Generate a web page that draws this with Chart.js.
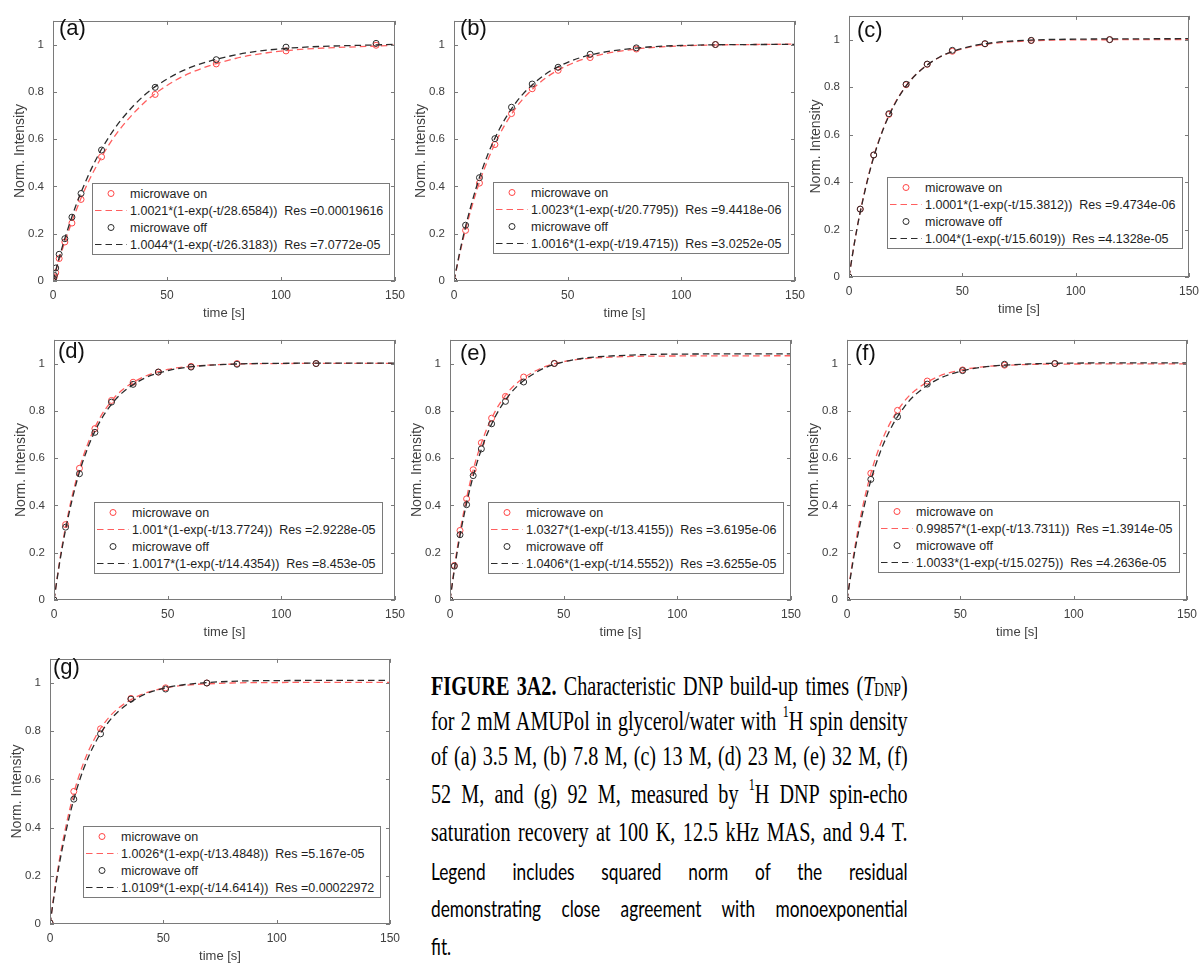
<!DOCTYPE html>
<html>
<head>
<meta charset="utf-8">
<script src="https://cdn.jsdelivr.net/npm/chart.js@4.4.1/dist/chart.umd.min.js"></script>
<style>
  body { margin: 0; background: #fff; width: 1204px; height: 963px; overflow: hidden; position: relative;
         font-family: "Liberation Sans", Arial, sans-serif; }
  canvas.panel { position: absolute; }
  .legend { position: absolute; background: #fff; border: 1px solid #7a7a7a; padding: 1px 6px 1px 2px;
            font-size: 12.5px; color: #1e1e1e; }
  .legend .row { display: flex; align-items: center; height: 17px; white-space: pre; }
  .legend svg { width: 32px; height: 17px; margin-right: 3px; flex: none; }
  .tag { position: absolute; font-size: 22px; line-height: 22px; color: #111; }
  .cap { position: absolute; left: 431px; width: 662px; transform-origin: 0 0; transform: scaleX(0.72);
         text-align: justify; text-align-last: justify; color: #000; }
  .serif { font-family: "Liberation Serif", "Times New Roman", serif; font-size: 28px; line-height: 28px; }
  .sans { font-family: Lato, "Open Sans", sans-serif; font-size: 24px; line-height: 24px; }
  .sup { font-size: 0.6em; position: relative; top: -0.75em; line-height: 0; }
  .sub { font-size: 0.66em; position: relative; top: 0.05em; line-height: 0; }
</style>
</head>
<body>

<div class="cap serif" style="top:672px"><b>FIGURE 3A2.</b> Characteristic DNP build-up times (<i>T</i><span class="sub">DNP</span>)</div>
<div class="cap serif" style="top:707px">for 2 mM AMUPol in glycerol/water with <span class="sup">1</span>H spin density</div>
<div class="cap serif" style="top:742px">of (a) 3.5 M, (b) 7.8 M, (c) 13 M, (d) 23 M, (e) 32 M, (f)</div>
<div class="cap serif" style="top:780px">52 M, and (g) 92 M, measured by <span class="sup">1</span>H DNP spin-echo</div>
<div class="cap serif" style="top:818px">saturation recovery at 100 K, 12.5 kHz MAS, and 9.4 T.</div>
<div class="cap sans" style="top:859px">Legend includes squared norm of the residual</div>
<div class="cap sans" style="top:896px">demonstrating close agreement with monoexponential</div>
<div class="cap sans" style="top:934px; text-align-last:left">fit.</div>

<script>
// shared axes
const xTicks = [0, 50, 100, 150];
const yTicks = [0, 0.2, 0.4, 0.6, 0.8, 1];
const fitTimes = [0, 2.5, 5, 10, 15, 20, 25, 30, 40, 50, 60, 80, 100, 150];

// (a) 3.5 M
const aTimes  = [0, 0.25, 0.6, 1.2, 2.7, 5.2, 8.3, 12.3, 21.3, 44.8, 71.6, 102.2, 141.7];
const aOn     = [0, 0.008, 0.018, 0.035, 0.095, 0.165, 0.245, 0.345, 0.525, 0.789, 0.918, 0.973, 0.997];
const aOff    = [0, 0.010, 0.024, 0.055, 0.113, 0.179, 0.270, 0.370, 0.554, 0.819, 0.936, 0.989, 1.005];
const aFitOn  = [0, 0.084, 0.160, 0.295, 0.409, 0.502, 0.583, 0.650, 0.754, 0.827, 0.879, 0.941, 0.972, 0.997];
const aFitOff = [0, 0.091, 0.174, 0.318, 0.436, 0.535, 0.616, 0.683, 0.785, 0.854, 0.902, 0.956, 0.982, 1.001];
const aLegend = ['1.0021*(1-exp(-t/28.6584))  Res =0.00019616', '1.0044*(1-exp(-t/26.3183))  Res =7.0772e-05'];

// (b) 7.8 M
const bTimes  = [0, 5.1, 11.2, 18, 25.3, 34.4, 45.8, 59.9, 80.2, 115];
const bOn     = [0, 0.214, 0.414, 0.577, 0.708, 0.813, 0.891, 0.945, 0.981, 1.0];
const bOff    = [0, 0.236, 0.437, 0.602, 0.735, 0.833, 0.904, 0.959, 0.986, 1.0];
const bFitOn  = [0, 0.114, 0.214, 0.383, 0.515, 0.619, 0.701, 0.766, 0.856, 0.912, 0.947, 0.981, 0.994, 1.002];
const bFitOff = [0, 0.121, 0.227, 0.402, 0.538, 0.643, 0.724, 0.787, 0.873, 0.925, 0.956, 0.985, 0.996, 1.001];
const bLegend = ['1.0023*(1-exp(-t/20.7795))  Res =9.4418e-06', '1.0016*(1-exp(-t/19.4715))  Res =3.0252e-05'];

// (c) 13 M
const cTimes  = [0, 4.95, 10.9, 17.6, 25.2, 34.5, 45.6, 60, 80.4, 115];
const cOn     = [0, 0.286, 0.514, 0.685, 0.810, 0.896, 0.951, 0.982, 0.996, 1.0];
const cOff    = [0, 0.286, 0.514, 0.688, 0.812, 0.897, 0.955, 0.983, 0.997, 1.0];
const cFitOn  = [0, 0.150, 0.278, 0.478, 0.623, 0.728, 0.803, 0.858, 0.926, 0.961, 0.980, 0.995, 0.999, 1.000];
const cFitOff = [0, 0.149, 0.275, 0.475, 0.620, 0.725, 0.802, 0.857, 0.927, 0.963, 0.983, 0.998, 1.002, 1.004];
const cLegend = ['1.0001*(1-exp(-t/15.3812))  Res =9.4734e-06', '1.004*(1-exp(-t/15.6019))  Res =4.1328e-05'];

// (d) 23 M
const dTimes  = [0, 5.1, 11.2, 18, 25.3, 34.8, 45.9, 60.3, 80.5, 115.3];
const dOn     = [0, 0.319, 0.557, 0.725, 0.844, 0.921, 0.964, 0.988, 1.0, 1.0];
const dOff    = [0, 0.308, 0.534, 0.709, 0.837, 0.912, 0.964, 0.985, 0.997, 1.0];
const dFitOn  = [0, 0.166, 0.305, 0.517, 0.664, 0.767, 0.838, 0.888, 0.946, 0.975, 0.988, 0.998, 1.000, 1.001];
const dFitOff = [0, 0.159, 0.293, 0.501, 0.647, 0.751, 0.824, 0.876, 0.939, 0.970, 0.986, 0.998, 1.001, 1.002];
const dLegend = ['1.001*(1-exp(-t/13.7724))  Res =2.9228e-05', '1.0017*(1-exp(-t/14.4354))  Res =8.453e-05'];

// (e) 32 M
const eTimes  = [0, 1.9, 4.4, 7.3, 10.2, 13.8, 18.3, 24.4, 32.4, 45.9];
const eOn     = [0, 0.146, 0.294, 0.428, 0.551, 0.665, 0.769, 0.861, 0.943, 1.001];
const eOff    = [0, 0.143, 0.276, 0.403, 0.526, 0.639, 0.745, 0.840, 0.922, 1.0];
const eFitOn  = [0, 0.176, 0.321, 0.543, 0.695, 0.800, 0.873, 0.922, 0.980, 1.008, 1.021, 1.030, 1.032, 1.033];
const eFitOff = [0, 0.164, 0.303, 0.517, 0.669, 0.777, 0.854, 0.908, 0.974, 1.007, 1.024, 1.036, 1.040, 1.041];
const eLegend = ['1.0327*(1-exp(-t/13.4155))  Res =3.6195e-06', '1.0406*(1-exp(-t/14.5552))  Res =3.6255e-05'];

// (f) 52 M
const fTimes  = [0, 10.5, 22.3, 35.4, 51, 69.5, 91.7];
const fOn     = [0, 0.536, 0.802, 0.926, 0.973, 0.993, 1.0];
const fOff    = [0, 0.510, 0.775, 0.913, 0.970, 0.997, 1.0];
const fFitOn  = [0, 0.166, 0.305, 0.517, 0.664, 0.765, 0.837, 0.886, 0.944, 0.972, 0.986, 0.996, 0.998, 0.999];
const fFitOff = [0, 0.154, 0.284, 0.488, 0.634, 0.738, 0.813, 0.867, 0.933, 0.967, 0.985, 0.998, 1.002, 1.003];
const fLegend = ['0.99857*(1-exp(-t/13.7311))  Res =1.3914e-05', '1.0033*(1-exp(-t/15.0275))  Res =4.2636e-05'];

// (g) 92 M
const gTimes  = [0, 10.5, 22.3, 35.7, 51, 69.2];
const gOn     = [0.005, 0.550, 0.810, 0.936, 0.980, 1.0];
const gOff    = [0.005, 0.518, 0.789, 0.933, 0.975, 1.0];
const gFitOn  = [0, 0.170, 0.311, 0.525, 0.673, 0.775, 0.846, 0.894, 0.951, 0.978, 0.991, 1.000, 1.002, 1.003];
const gFitOff = [0, 0.159, 0.293, 0.500, 0.648, 0.753, 0.828, 0.881, 0.945, 0.978, 0.994, 1.007, 1.010, 1.011];
const gLegend = ['1.0026*(1-exp(-t/13.4848))  Res =5.167e-05', '1.0109*(1-exp(-t/14.6414))  Res =0.00022972'];

const RED = 'rgb(255,70,70)';
const RED_LINE = 'rgb(255,95,95)';
const BLACK = '#2b2b2b';
const AXIS = '#7a7a7a';
const TEXT = '#404040';
const Y_AXIS_W = 56, X_AXIS_H = 42, PAD_T = 8, PAD_R = 14, TICK_LEN = 4;

// plot rectangle [left, top, right, bottom], legend corner, tag offset
const layout = {
  a: { box: [53, 13, 398, 281],  legend: [92, 183],  tag: [6, 7] },
  b: { box: [454, 13, 798, 281], legend: [493, 182], tag: [6, 7] },
  c: { box: [849, 8, 1192, 277], legend: [887, 177], tag: [8, 14] },
  d: { box: [54, 332, 398, 600], legend: [94, 502],  tag: [4, 11] },
  e: { box: [450, 332, 794, 600], legend: [488, 502], tag: [10, 13] },
  f: { box: [847, 332, 1190, 600], legend: [878, 501], tag: [8, 13] },
  g: { box: [50, 651, 393, 924], legend: [83, 826],  tag: [3, 8] }
};

const panels = [
  { id: 'a', t: aTimes, on: aOn, off: aOff, fitOn: aFitOn, fitOff: aFitOff, legend: aLegend },
  { id: 'b', t: bTimes, on: bOn, off: bOff, fitOn: bFitOn, fitOff: bFitOff, legend: bLegend },
  { id: 'c', t: cTimes, on: cOn, off: cOff, fitOn: cFitOn, fitOff: cFitOff, legend: cLegend },
  { id: 'd', t: dTimes, on: dOn, off: dOff, fitOn: dFitOn, fitOff: dFitOff, legend: dLegend },
  { id: 'e', t: eTimes, on: eOn, off: eOff, fitOn: eFitOn, fitOff: eFitOff, legend: eLegend },
  { id: 'f', t: fTimes, on: fOn, off: fOff, fitOn: fFitOn, fitOff: fFitOff, legend: fLegend },
  { id: 'g', t: gTimes, on: gOn, off: gOff, fitOn: gFitOn, fitOff: gFitOff, legend: gLegend }
];

const pts = (xs, ys) => xs.map((x, i) => ({ x: x, y: ys[i] }));

// box around the axes with inward ticks on all four sides
const matlabBox = {
  id: 'matlabBox',
  afterDatasetsDraw(chart) {
    const { ctx, chartArea: a, scales: { x, y } } = chart;
    ctx.save();
    ctx.strokeStyle = AXIS;
    ctx.lineWidth = 1;
    ctx.beginPath();
    x.ticks.forEach(t => {
      const px = Math.round(x.getPixelForValue(t.value)) + 0.5;
      ctx.moveTo(px, a.bottom); ctx.lineTo(px, a.bottom - TICK_LEN);
      ctx.moveTo(px, a.top); ctx.lineTo(px, a.top + TICK_LEN);
    });
    y.ticks.forEach(t => {
      const py = Math.round(y.getPixelForValue(t.value)) + 0.5;
      ctx.moveTo(a.left, py); ctx.lineTo(a.left + TICK_LEN, py);
      ctx.moveTo(a.right, py); ctx.lineTo(a.right - TICK_LEN, py);
    });
    ctx.stroke();
    ctx.strokeRect(Math.round(a.left) + 0.5, Math.round(a.top) + 0.5,
                   Math.round(a.right - a.left) - 1, Math.round(a.bottom - a.top) - 1);
    ctx.restore();
  }
};

function sample(kind, color) {
  if (kind === 'dot') {
    return `<svg><circle cx="16" cy="8.5" r="3" fill="none" stroke="${color}" stroke-width="1"/></svg>`;
  }
  return `<svg><line x1="0" y1="8.5" x2="32" y2="8.5" stroke="${color}" stroke-width="1.2" stroke-dasharray="6.5 4"/></svg>`;
}

panels.forEach(p => {
  const L = layout[p.id];
  const [bl, bt, br, bb] = L.box;
  const cv = document.createElement('canvas');
  cv.className = 'panel';
  cv.width = br - bl + Y_AXIS_W + PAD_R;
  cv.height = bb - bt + PAD_T + X_AXIS_H;
  cv.style.left = (bl - Y_AXIS_W) + 'px';
  cv.style.top = (bt - PAD_T) + 'px';
  document.body.appendChild(cv);

  new Chart(cv, {
    type: 'scatter',
    data: {
      datasets: [
        { label: 'microwave on', data: pts(p.t, p.on), showLine: false, order: 4,
          borderColor: RED, backgroundColor: 'rgba(0,0,0,0)', pointRadius: 3, pointBorderWidth: 1 },
        { label: p.legend[0], data: pts(fitTimes, p.fitOn), showLine: true, order: 3,
          borderColor: RED_LINE, borderWidth: 1.3, borderDash: [6.5, 4], pointRadius: 0,
          cubicInterpolationMode: 'monotone', fill: false },
        { label: 'microwave off', data: pts(p.t, p.off), showLine: false, order: 2,
          borderColor: BLACK, backgroundColor: 'rgba(0,0,0,0)', pointRadius: 3, pointBorderWidth: 1 },
        { label: p.legend[1], data: pts(fitTimes, p.fitOff), showLine: true, order: 1,
          borderColor: BLACK, borderWidth: 1.3, borderDash: [6.5, 4], pointRadius: 0,
          cubicInterpolationMode: 'monotone', fill: false }
      ]
    },
    options: {
      responsive: false,
      animation: false,
      layout: { padding: { top: PAD_T, right: PAD_R, left: 0, bottom: 0 } },
      plugins: { legend: { display: false }, tooltip: { enabled: false } },
      scales: {
        x: {
          type: 'linear', min: 0, max: 150,
          grid: { display: false, drawTicks: false }, border: { display: false },
          afterBuildTicks: s => { s.ticks = xTicks.map(v => ({ value: v })); },
          afterFit: s => { s.height = X_AXIS_H; },
          ticks: { padding: 7, color: TEXT, maxRotation: 0, font: { size: 12 }, callback: v => String(v) },
          title: { display: true, text: 'time [s]', color: TEXT, font: { size: 13 }, padding: { top: 0, bottom: 2 } }
        },
        y: {
          type: 'linear', min: 0, max: 1.1,
          grid: { display: false, drawTicks: false }, border: { display: false },
          afterBuildTicks: s => { s.ticks = yTicks.map(v => ({ value: v })); },
          afterFit: s => { s.width = Y_AXIS_W; },
          ticks: { padding: 9, color: TEXT, font: { size: 11.5 }, callback: v => String(v) },
          title: { display: true, text: 'Norm. Intensity', color: TEXT, font: { size: 14 }, padding: { top: 14.6, bottom: 0 } }
        }
      }
    },
    plugins: [matlabBox]
  });

  const tag = document.createElement('div');
  tag.className = 'tag';
  tag.textContent = '(' + p.id + ')';
  tag.style.left = (bl + L.tag[0]) + 'px';
  tag.style.top = (bt + L.tag[1] - 3) + 'px';
  document.body.appendChild(tag);

  const lg = document.createElement('div');
  lg.className = 'legend';
  lg.style.left = L.legend[0] + 'px';
  lg.style.top = L.legend[1] + 'px';
  lg.innerHTML =
    `<div class="row">${sample('dot', RED)}<span>microwave on</span></div>` +
    `<div class="row">${sample('dash', RED_LINE)}<span>${p.legend[0]}</span></div>` +
    `<div class="row">${sample('dot', BLACK)}<span>microwave off</span></div>` +
    `<div class="row">${sample('dash', BLACK)}<span>${p.legend[1]}</span></div>`;
  document.body.appendChild(lg);
});
</script>
</body>
</html>
